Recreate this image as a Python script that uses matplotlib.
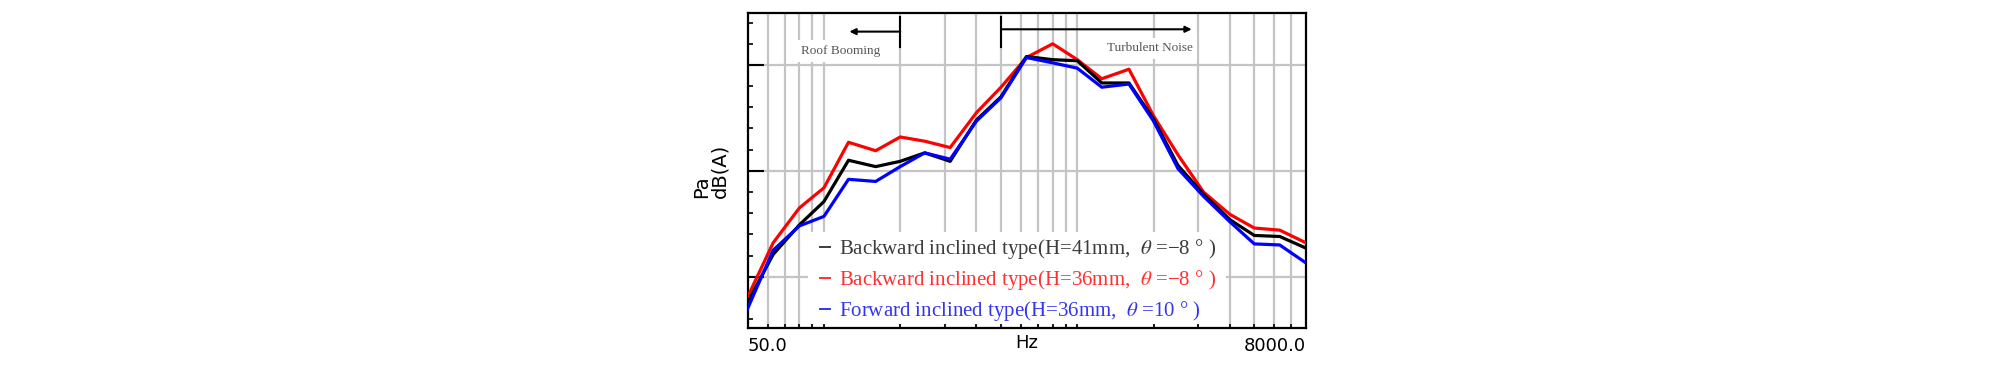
import matplotlib
matplotlib.use("Agg")
import matplotlib.pyplot as plt
from matplotlib.lines import Line2D
from matplotlib.patches import Rectangle
from matplotlib.ticker import FixedLocator, NullFormatter, MultipleLocator

plt.rcParams['mathtext.fontset'] = 'stix'

# 1/3-octave band centre frequencies (Hz)
freqs = [50, 63, 80, 100, 125, 160, 200, 250, 315, 400, 500, 630, 800,
         1000, 1250, 1600, 2000, 2500, 3150, 4000, 5000, 6300, 8000]

# Sound pressure level, dB(A)
backward_41 = [37.6, 42.1, 44.9, 47.1, 51.0, 50.4, 50.9, 51.7, 50.9, 54.8, 57.0, 60.8, 60.5,
               60.4, 58.3, 58.3, 54.9, 50.5, 47.8, 45.4, 43.9, 43.8, 42.7]
backward_36 = [38.1, 43.2, 46.5, 48.4, 52.7, 51.9, 53.2, 52.8, 52.2, 55.5, 57.9, 60.7, 62.0,
               60.5, 58.7, 59.6, 55.2, 51.5, 48.0, 45.9, 44.6, 44.4, 43.2]
forward_36 = [37.0, 42.5, 44.8, 45.7, 49.2, 49.0, 50.4, 51.7, 51.1, 54.7, 56.9, 60.7, 60.2,
              59.7, 57.9, 58.2, 54.7, 50.2, 47.6, 45.2, 43.1, 43.0, 41.3]

series_labels = [
    "Backward inclined type(H=41mm,  $\\theta$ =\u22128 \u00b0 )",
    "Backward inclined type(H=36mm,  $\\theta$ =\u22128 \u00b0 )",
    "Forward inclined type(H=36mm,  $\\theta$ =10 \u00b0 )",
]
series_colors = ["#000000", "#ff0000", "#0000ff"]
legend_text_colors = ["#3c3c3c", "#ff3030", "#3535f0"]

grid_freqs = [60, 70, 80, 90, 100, 200, 300, 400, 500, 600, 700, 800, 900,
              1000, 2000, 3000, 4000, 5000, 6000, 7000]
end_ticks = [50, 8000]
end_tick_labels = ["50.0", "8000.0"]

fig = plt.figure(figsize=(20.08, 3.67), dpi=100)
ax = fig.add_axes([0.37236, 0.10545, 0.27804, 0.85831])
ax.set_xscale('log')
ax.set_xlim(50, 8000)
ax.set_ylim(35.13, 64.88)
ax.set_axisbelow(True)

# x ticks
ax.set_xticks(end_ticks, end_tick_labels)
ax.xaxis.set_minor_locator(FixedLocator(grid_freqs))
ax.xaxis.set_minor_formatter(NullFormatter())
ax.tick_params(axis='x', which='major', length=0, pad=6, labelsize=13)
ax.tick_params(axis='x', which='minor', direction='in', length=3, width=1.2, color='black')
tl = ax.get_xticklabels()
tl[0].set_ha('left')
tl[1].set_ha('right')

# y ticks
ax.yaxis.set_major_locator(MultipleLocator(10))
ax.yaxis.set_minor_locator(MultipleLocator(2))
ax.tick_params(axis='y', which='major', direction='in', length=11.5, width=1.5, labelleft=False)
ax.tick_params(axis='y', which='minor', direction='in', length=3.8, width=1.2)

ax.grid(True, which='minor', axis='x', color='#c4c4c4', lw=1.6)
ax.grid(True, which='major', axis='y', color='#c4c4c4', lw=1.6)
ax.grid(False, which='major', axis='x')

for s in ax.spines.values():
    s.set_linewidth(1.6)
    s.set_color('black')

ax.set_xlabel('Hz', fontsize=13)
ax.xaxis.set_label_coords(0.5, -0.018)
ax.set_ylabel('Pa\ndB(A)', fontsize=14, linespacing=0.95, multialignment='left')
ax.yaxis.set_label_coords(-0.032, 0.5)

# white box behind the legend
ax.add_patch(Rectangle((0.108, 0.0137), 0.7487, 0.292, transform=ax.transAxes,
                       facecolor='white', edgecolor='none', zorder=1))

# data lines
ax.plot(freqs, backward_36, color=series_colors[1], lw=2.3, zorder=3)
ax.plot(freqs, backward_41, color=series_colors[0], lw=2.3, zorder=3.1)
ax.plot(freqs, forward_36, color=series_colors[2], lw=2.3, zorder=3.2)

# legend
handles = [Line2D([], [], color=c, lw=1.4) for c in legend_text_colors]
leg = ax.legend(handles, series_labels, loc='upper left', bbox_to_anchor=(0.1295, 0.2886),
                frameon=False, borderpad=0, borderaxespad=0, handlelength=0.5,
                handletextpad=0.4, labelspacing=0.33,
                prop={'family': 'Liberation Serif', 'size': 15},
                labelcolor=legend_text_colors)
leg.set_zorder(5)

# annotations: frequency regions
y_bar_lo, y_bar_hi = 61.73, 64.56
ax.plot([200, 200], [y_bar_lo, y_bar_hi], color='black', lw=1.5, zorder=4)
ax.annotate('', xy=(126, 63.15), xytext=(200, 63.15),
            arrowprops=dict(arrowstyle='-|>', color='black', lw=1.5,
                            mutation_scale=9, shrinkA=0, shrinkB=0), zorder=4)
ax.plot([500, 500], [y_bar_lo, y_bar_hi], color='black', lw=1.5, zorder=4)
ax.annotate('', xy=(2830, 63.37), xytext=(500, 63.37),
            arrowprops=dict(arrowstyle='-|>', color='black', lw=1.5,
                            mutation_scale=9, shrinkA=0, shrinkB=0), zorder=4)
ax.text(116, 61.32, 'Roof Booming', ha='center', va='center', family='Liberation Serif',
        size=9.5, color='#555555', zorder=2,
        bbox=dict(boxstyle='square,pad=0.35', fc='white', ec='none'))
ax.text(1936, 61.56, 'Turbulent Noise', ha='center', va='center', family='Liberation Serif',
        size=9.5, color='#555555', zorder=2,
        bbox=dict(boxstyle='square,pad=0.35', fc='white', ec='none'))

fig.savefig('out.png', dpi=100)
